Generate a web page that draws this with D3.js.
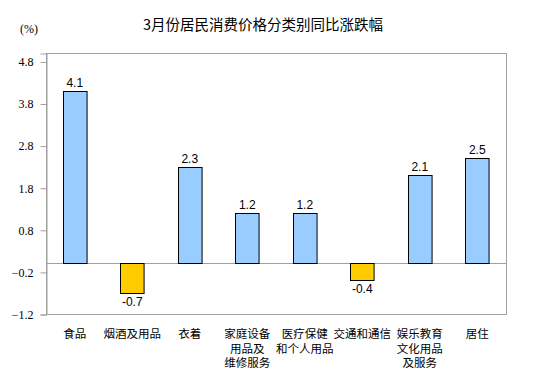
<html>
<meta charset="utf-8">
<script src="https://cdn.jsdelivr.net/npm/d3@7/dist/d3.min.js"></script>
<style>
body{
  margin: 0;
  background: white;
}
.cat{
  font: 11.5px "Noto Sans CJK SC", sans-serif;
  fill: black;
}
.tick text{
  font: 12px "Liberation Serif", serif;
  fill: black;
}
.val{
  font: 12px "Liberation Sans", Arial, sans-serif;
  fill: black;
}
</style>
<body>
<div id="chart"></div>
<script>
var categories = ["食品", "烟酒及用品", "衣着", "家庭设备\n用品及\n维修服务", "医疗保健\n和个人用品", "交通和通信", "娱乐教育\n文化用品\n及服务", "居住"];
var values = [4.1, -0.7, 2.3, 1.2, 1.2, -0.4, 2.1, 2.5];
var tickValues = [4.8, 3.8, 2.8, 1.8, 0.8, -0.2, -1.2];

var width = 543, height = 389;
var plotLeft = 46, plotRight = 506, plotTop = 53, plotBottom = 314;

var svg = d3.select("#chart").append("svg").attr("width", width).attr("height", height);

var x = d3.scaleBand().domain(categories).range([plotLeft, plotRight]).paddingInner(0.59).paddingOuter(0.295);
var y = d3.scaleLinear().domain([-1.2, 5.0]).range([plotBottom, plotTop]);

// title
svg.append("text")
  .attr("x", 263).attr("y", 30)
  .attr("text-anchor", "middle")
  .style("font", "14.5px 'Noto Sans CJK SC', sans-serif")
  .text("3月份居民消费价格分类别同比涨跌幅");

svg.append("text")
  .attr("x", 20).attr("y", 33)
  .style("font", "12px 'Liberation Serif', serif")
  .text("(%)");

// plot frame
svg.append("rect")
  .attr("x", plotLeft + 0.5).attr("y", plotTop + 0.5)
  .attr("width", plotRight - plotLeft).attr("height", plotBottom - plotTop)
  .attr("fill", "none").attr("stroke", "#a0a0a0");

// y axis
var yAxis = svg.append("g")
  .attr("transform", "translate(" + (plotLeft + 0.5) + ",0.5)")
  .call(d3.axisLeft(y).tickValues(tickValues).tickFormat(d3.format(".1f")).tickSize(6).tickPadding(7));
yAxis.select(".domain").attr("stroke", "#a0a0a0");
yAxis.selectAll(".tick line").attr("stroke", "#a0a0a0");

// zero line
svg.append("line")
  .attr("x1", plotLeft).attr("x2", plotRight)
  .attr("y1", Math.round(y(0)) + 0.5).attr("y2", Math.round(y(0)) + 0.5)
  .attr("stroke", "#a0a0a0");

// bars
svg.selectAll(".bar").data(values).enter()
  .append("rect")
  .attr("class", "bar")
  .attr("x", function(d, i){ return Math.round(x(categories[i])) + 0.5; })
  .attr("width", x.bandwidth())
  .attr("y", function(d){ return Math.round(y(Math.max(d, 0))) + 0.5; })
  .attr("height", function(d){ return Math.abs(Math.round(y(d)) - Math.round(y(0))); })
  .attr("fill", function(d){ return d < 0 ? "#ffcc00" : "#99ccff"; })
  .attr("stroke", "black");

// value labels
svg.selectAll(".val").data(values).enter()
  .append("text")
  .attr("class", "val")
  .attr("text-anchor", "middle")
  .attr("x", function(d, i){ return x(categories[i]) + x.bandwidth() / 2; })
  .attr("y", function(d){ return d < 0 ? y(d) + 13 : y(d) - 4; })
  .text(function(d){ return d.toFixed(1); });

// category labels
categories.forEach(function(c, i){
  var t = svg.append("text")
    .attr("class", "cat")
    .attr("text-anchor", "middle")
    .attr("x", x(c) + x.bandwidth() / 2)
    .attr("y", 338);
  c.split("\n").forEach(function(line, j){
    t.append("tspan")
      .attr("x", x(c) + x.bandwidth() / 2)
      .attr("dy", j == 0 ? 0 : 14.5)
      .text(line);
  });
});
</script>
</body>
</html>
